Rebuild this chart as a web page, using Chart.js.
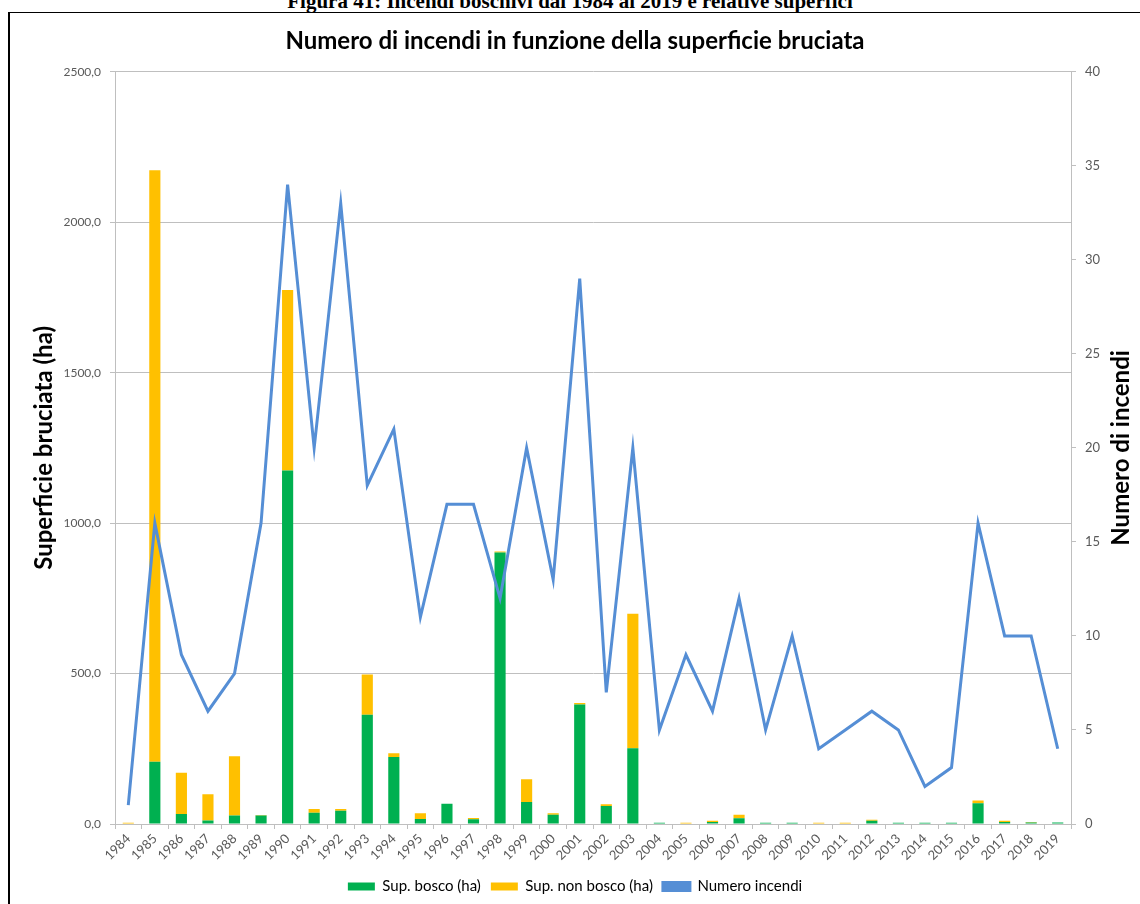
<!DOCTYPE html>
<html>
<head>
<meta charset="utf-8">
<script src="https://cdn.jsdelivr.net/npm/chart.js@4/dist/chart.umd.min.js"></script>
<style>
  body { margin: 0; background: #fff; overflow: hidden; }
  #heading {
    position: absolute; left: 0; top: -10px; width: 1140px;
    text-align: center; font: bold 21px "Liberation Serif", serif; line-height: 22px;
  }
  #box {
    position: absolute; left: 8px; top: 12px; width: 1132px; height: 892px;
    border-left: 2px solid #000; border-top: 1px solid #000; background: #fff;
  }
  #graph--fires { display: block; }
</style>
</head>
<body>
<div id="heading">Figura 41: Incendi boschivi dal 1984 al 2019 e relative superfici</div>
<div id="box"><canvas id="graph--fires" width="1130" height="891"></canvas></div>
<script>
// values
const YEARS = ["1984", "1985", "1986", "1987", "1988", "1989", "1990", "1991", "1992",
  "1993", "1994", "1995", "1996", "1997", "1998", "1999", "2000", "2001", "2002", "2003",
  "2004", "2005", "2006", "2007", "2008", "2009", "2010", "2011", "2012", "2013", "2014",
  "2015", "2016", "2017", "2018", "2019"];
const SUP_BOSCO = [0, 207, 33, 12, 28, 28, 1175, 37, 44, 363, 223, 17, 67, 16, 902, 73, 31,
  397, 60, 252, 4, 0, 7, 19, 4, 4, 0, 0, 11, 4, 4, 4, 69, 7, 5, 5];
const SUP_NON_BOSCO = [4, 1966, 137, 87, 197, 2, 600, 13, 6, 134, 12, 19, 0, 4, 4, 76, 5,
  5, 6, 447, 0, 4, 4, 12, 0, 0, 4, 4, 3, 0, 0, 0, 9, 4, 2, 0];
const NUM_INCENDI = [1, 16, 9, 6, 8, 16, 34, 20, 33, 18, 21, 11, 17, 17, 12, 20, 13, 29, 7,
  20, 5, 9, 6, 12, 5, 10, 4, 5, 6, 5, 2, 3, 16, 10, 10, 4];

const FIRES = document.getElementById("graph--fires");
const FONT = "Lato";
const GRID = "#bfbfbf";
const TICK_COLOR = "#595959";

// right axis title reads bottom-to-top, so draw it by hand
const rightTitle = {
  id: "rightTitle",
  afterDraw(chart) {
    const { ctx, chartArea } = chart;
    ctx.save();
    ctx.translate(1111, (chartArea.top + chartArea.bottom) / 2);
    ctx.rotate(-Math.PI / 2);
    ctx.font = "bold 24px " + FONT;
    ctx.fillStyle = "#000";
    ctx.textAlign = "center";
    ctx.textBaseline = "middle";
    ctx.fillText("Numero di incendi", 0, 0);
    ctx.restore();
  }
};

let firesChart = new Chart(FIRES, {
  type: "bar",
  data: {
    labels: YEARS,
    datasets: [{
      label: "Sup. bosco (ha)",
      data: SUP_BOSCO,
      backgroundColor: "#00b050",
      yAxisID: "y",
      order: 1
    }, {
      label: "Sup. non bosco (ha)",
      data: SUP_NON_BOSCO,
      backgroundColor: "#ffc000",
      yAxisID: "y",
      order: 1
    }, {
      type: "line",
      label: "Numero incendi",
      data: NUM_INCENDI,
      borderColor: "#558ed5",
      backgroundColor: "#558ed5",
      borderWidth: 3,
      pointRadius: 0,
      tension: 0,
      yAxisID: "y1",
      order: 0
    }]
  },
  options: {
    responsive: false,
    animation: false,
    events: [],
    datasets: {
      bar: { categoryPercentage: 1, barPercentage: 0.42 }
    },
    layout: { padding: 0 },
    plugins: {
      title: {
        display: true,
        text: "Numero di incendi in funzione della superficie bruciata",
        color: "#000",
        font: { family: FONT, size: 24, weight: "bold" },
        padding: { top: 14, bottom: 16 }
      },
      legend: {
        position: "bottom",
        labels: {
          color: "#000",
          font: { family: FONT, size: 15 },
          boxWidth: 27,
          boxHeight: 8,
          padding: 10,
          sort: (a, b) => a.datasetIndex - b.datasetIndex
        }
      },
      tooltip: { enabled: false }
    },
    scales: {
      x: {
        stacked: true,
        grid: { drawOnChartArea: false, offset: true, tickLength: 5, color: GRID },
        border: { color: GRID },
        ticks: {
          color: TICK_COLOR,
          font: { family: FONT, size: 13 },
          minRotation: 45,
          maxRotation: 45,
          autoSkip: false,
          padding: 2
        },
        afterFit: (scale) => { scale.height = 45; }
      },
      y: {
        stacked: true,
        position: "left",
        min: 0,
        max: 2500,
        grid: { color: GRID, tickLength: 5 },
        border: { color: GRID },
        ticks: {
          stepSize: 500,
          color: TICK_COLOR,
          padding: 9,
          font: { family: FONT, size: 12 },
          callback: (v) => v.toFixed(1).replace(".", ",")
        },
        title: {
          display: true,
          text: "Superficie bruciata (ha)",
          color: "#000",
          font: { family: FONT, size: 24, weight: "bold" },
          padding: { top: 20, bottom: 0 }
        },
        afterFit: (scale) => { scale.width = 105; }
      },
      y1: {
        position: "right",
        min: 0,
        max: 40,
        grid: { drawOnChartArea: false, tickLength: 5, color: GRID },
        border: { color: GRID },
        ticks: {
          stepSize: 5,
          color: TICK_COLOR,
          padding: 9,
          font: { family: FONT, size: 13 }
        },
        afterFit: (scale) => { scale.width = 69; }
      }
    }
  },
  plugins: [rightTitle]
});
</script>
</body>
</html>
